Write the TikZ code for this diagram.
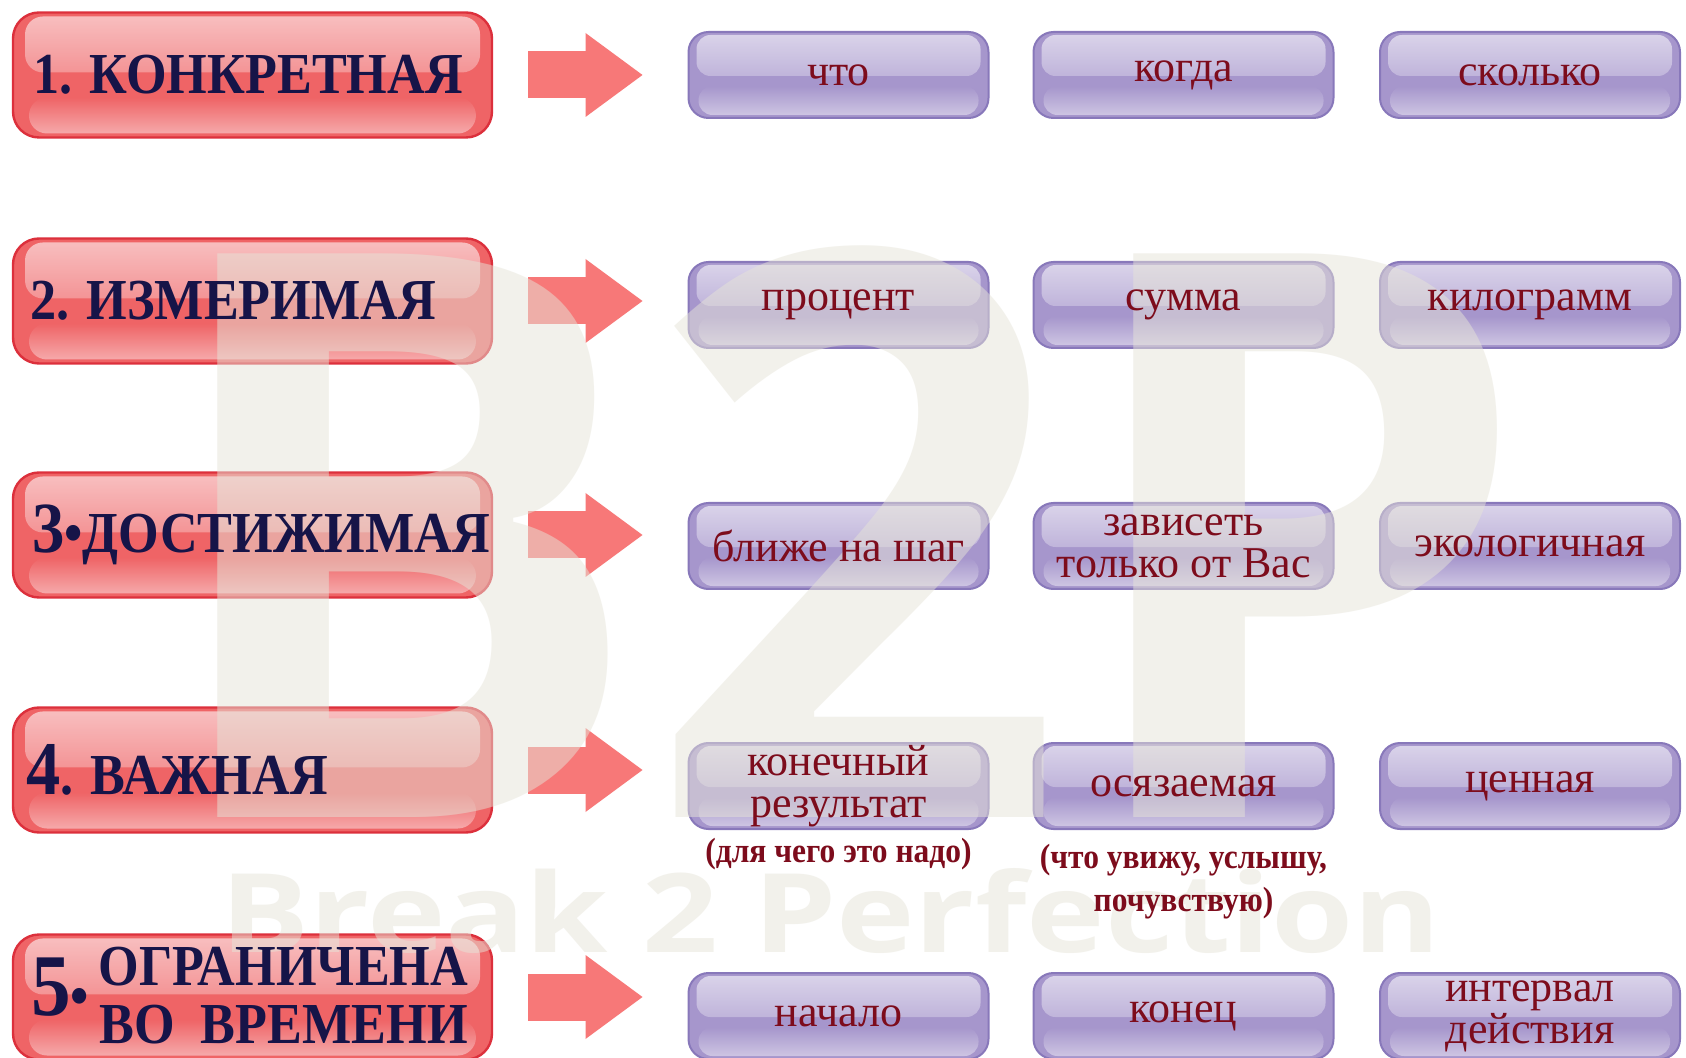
\documentclass[tikz,border=0pt]{standalone}
\usepackage{fontspec}
\setmainfont{Liberation Serif}
\newfontfamily\headfont{Liberation Serif}[FakeStretch=0.9]
\newfontfamily\markfont{Open Sans}
\usetikzlibrary{positioning,calc,arrows.meta,fadings}

\definecolor{redrim}{RGB}{220,48,60}
\definecolor{redbody}{RGB}{239,100,102}
\definecolor{lavrim}{RGB}{136,120,186}
\definecolor{lavbody}{RGB}{166,150,204}
\definecolor{navy}{RGB}{22,20,72}
\definecolor{wine}{RGB}{125,12,28}
\definecolor{arrowred}{RGB}{247,120,120}
\definecolor{markbeige}{RGB}{230,228,216}

\pgfdeclarehorizontalshading{redgloss}{100bp}{color(0bp)=(redrim); color(5bp)=(redbody); color(95bp)=(redbody); color(100bp)=(redrim)}
\pgfdeclarehorizontalshading{lavgloss}{100bp}{color(0bp)=(lavrim); color(6bp)=(lavbody); color(94bp)=(lavbody); color(100bp)=(lavrim)}
\tikzfading[name=topglow, top color=transparent!40, bottom color=transparent!100]
\tikzfading[name=lowglow, top color=transparent!100, bottom color=transparent!55]

\newcommand\bignum[2]{{\fontsize{#1}{#1}\selectfont#2}}

\tikzset{
  redbox/.style={rounded corners=13pt, minimum width=239.5pt, minimum height=62.5pt, inner sep=0pt,
    shading=redgloss, draw=redrim, line width=1.2pt,
    path picture={
      \fill[white,path fading=topglow,rounded corners=9pt] ([xshift=6pt,yshift=-2pt]path picture bounding box.north west) rectangle ([xshift=-6pt,yshift=-30pt]path picture bounding box.north east);
      \fill[white,path fading=lowglow,rounded corners=9pt] ([xshift=8pt,yshift=2pt]path picture bounding box.south west) rectangle ([xshift=-8pt,yshift=20pt]path picture bounding box.south east);
    }},
  lavbox/.style={rounded corners=10pt, minimum width=150pt, minimum height=43pt, inner sep=0pt,
    shading=lavgloss, draw=lavrim, line width=1pt,
    path picture={
      \fill[white,path fading=topglow,rounded corners=7pt] ([xshift=4pt,yshift=-1.5pt]path picture bounding box.north west) rectangle ([xshift=-4pt,yshift=-22pt]path picture bounding box.north east);
      \fill[white,path fading=lowglow,rounded corners=7pt] ([xshift=5pt,yshift=1.5pt]path picture bounding box.south west) rectangle ([xshift=-5pt,yshift=16pt]path picture bounding box.south east);
    }},
  bigarrow/.style={draw=arrowred, line width=23.5pt, -{Triangle[length=28.5pt,width=42pt,line width=0pt]}},
  headtext/.style={font=\headfont\bfseries\fontsize{29}{29}\selectfont, text=navy, inner sep=0pt, anchor=west},
  celltext/.style={font=\fontsize{22}{21}\selectfont, text=wine, align=center, inner sep=0pt},
  notetext/.style={font=\headfont\bfseries\fontsize{17.5}{21.5}\selectfont, text=wine, align=center, inner sep=1pt},
  marktext/.style={font=\markfont\bfseries, text=markbeige, opacity=.5, inner sep=0pt, anchor=base west}
}

\begin{document}
\begin{tikzpicture}[x=0.5pt,y=-0.5pt]
    % boxes, one row per property
    \fill[white] (0,0) rectangle (1686,1058);
    \useasboundingbox (0,0) rectangle (1686,1058);
    \foreach \y [count=\i] in {75,301,535,770,997}
        \node[redbox] (r\i) at (252.5,\y) {};
    \foreach \y [count=\i] in {75,305,546,786,1016} {
        \foreach \x [count=\j] in {838.5,1183.5,1530}
            \node[lavbox] (p\i\j) at (\x,\y) {};
        \draw[bigarrow] ([xshift=17.5pt]r\i.east) -- ($(r\i.east -| p\i1.west)+(-45,0)$);
    }

    \node[marktext] (wm1) at (151,817) {\resizebox{689pt}{285pt}{B2P}};
    \node[marktext] (wm2) at (220,952) {\resizebox{610pt}{42pt}{Break 2 Perfection}};

    \node[headtext] (h1) at ([xshift=10.5pt]r1.west) {1. КОНКРЕТНАЯ};
    \node[headtext] (h2) at ([xshift=9pt]r2.west) {2. ИЗМЕРИМАЯ};
    \node[headtext] (h3) at ([xshift=10pt]r3.west) {\bignum{36}{3}•ДОСТИЖИМАЯ};
    \node[headtext] (h4) at ([xshift=7pt]r4.west) {\bignum{38}{4}. ВАЖНАЯ};
    \node[headtext] (h5) at ([xshift=9.5pt,yshift=-3pt]r5.west) {\bignum{44}{5}•\,\begin{tabular}{@{}c@{}}ОГРАНИЧЕНА\\ВО\ \ ВРЕМЕНИ\end{tabular}};

    \foreach \i/\j/\t in {1/1/что,1/2/когда,1/3/сколько,2/1/процент,2/2/сумма,2/3/килограмм,
        3/1/ближе на шаг,3/2/{зависеть\\только от Вас},3/3/экологичная,
        4/1/{конечный\\результат},4/2/осязаемая,4/3/ценная,
        5/1/начало,5/2/конец,5/3/{интервал\\действия}}
        \node[celltext] (c\i\j) at (p\i\j) {\t};

    \node[notetext, below=3pt of p41] (n1) {(для чего это надо)};
    \node[notetext, below=6pt of p42] (n2) {(что увижу, услышу,\\почувствую)};
\end{tikzpicture}
\end{document}
